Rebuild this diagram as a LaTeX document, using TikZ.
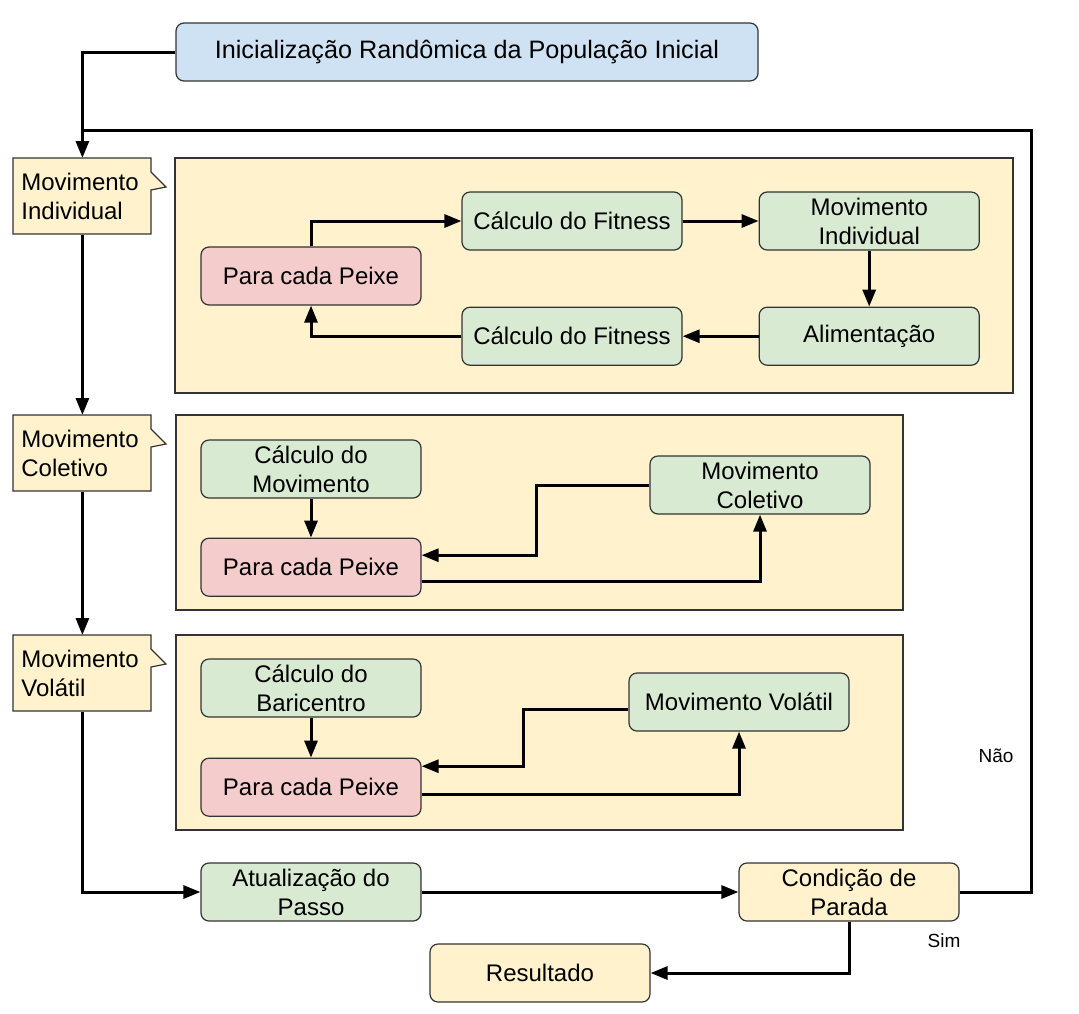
\documentclass[tikz,border=0pt]{standalone}
\usepackage{fontspec}
\setmainfont{Liberation Sans}
\usepackage{xcolor}
\usepackage{tikz}
\usetikzlibrary{arrows.meta, positioning}

\definecolor{initblue}{HTML}{CFE2F3}
\definecolor{paleyellow}{HTML}{FFF2CC}
\definecolor{palegreen}{HTML}{D9EAD3}
\definecolor{palered}{HTML}{F4CCCC}
\definecolor{edgegray}{HTML}{333333}

\begin{document}
\begin{tikzpicture}[x=0.5pt, y=-0.5pt]
    % Block styles
    \tikzstyle{block} = [rectangle, rounded corners=4pt, draw=edgegray, line width=0.6pt, text centered, align=center, minimum width=110pt, minimum height=29pt, inner sep=2pt, font=\fontsize{12}{14.5}\selectfont]
    \tikzstyle{block_green} = [block, fill=palegreen]
    \tikzstyle{block_red} = [block, fill=palered]
    \tikzstyle{block_yellow} = [block, fill=paleyellow]
    \tikzstyle{panel} = [draw=edgegray, line width=0.6pt, fill=paleyellow]
    \tikzstyle{note} = [rectangle, text width=61pt, align=left, minimum width=69pt, minimum height=38pt, inner sep=4pt, font=\fontsize{12}{14.5}\selectfont]
    \tikzstyle{answer} = [inner sep=0pt, font=\fontsize{9.5}{11}\selectfont]
    \tikzstyle{line} = [line width=1.5pt]
    \tikzstyle{arrow} = [line, -{Triangle[length=8.5pt, width=6.5pt]}]

    \useasboundingbox (0,0) rectangle (1079,1013);

    % Panels and side notes
    \draw[panel] (175,158) rectangle (1013,393);
    \draw[panel] (176,415) rectangle (903,610);
    \draw[panel] (176,635) rectangle (903,830);
    \foreach \y in {158,415,635} {
        \draw[panel] (13,\y) -- (151,\y) -- (151,\y+14) -- (166,\y+29) -- (151,\y+32) -- (151,\y+76) -- (13,\y+76) -- cycle;
    }
    \node[note, anchor=north west] (indiv) at (13,158) {Movimento\\Individual};
    \node[note, anchor=north west] (colnote) at (13,415) {Movimento\\Coletivo};
    \node[note, anchor=north west] (volnote) at (13,635) {Movimento\\Volátil};

    % Main flow
    \node[block, fill=initblue, minimum width=291pt, font=\fontsize{12.6}{15}\selectfont] (init) at (467,52) {Inicialização Randômica da População Inicial};
    \node[block_green] (update) at (311,892) {Atualização do\\Passo};
    \node[block_yellow] (stop) at (849,892) {Condição de\\Parada};
    \node[block_yellow] (result) at (540,973) {Resultado};
    \coordinate (loop_corner) at (1031,130);
    \node[answer] (no) at (996,756) {Não};
    \node[answer] (yes) at (944,941) {Sim};

    % Individual movement
    \node[block_red] (fish1) at (311,276) {Para cada Peixe};
    \node[block_green] (fit1) at (572,221) {Cálculo do Fitness};
    \node[block_green, right=38pt of fit1] (indmove) {Movimento\\Individual};
    \node[block_green, below=28pt of indmove] (feed) {Alimentação};
    \node[block_green, left=38pt of feed] (fit2) {Cálculo do Fitness};

    % Collective movement
    \node[block_green] (calcmove) at (311,469) {Cálculo do\\Movimento};
    \node[block_red, below=19.5pt of calcmove] (fish2) {Para cada Peixe};
    \node[block_green] (colmove) at (760,485) {Movimento\\Coletivo};

    % Volatile movement
    \node[block_green] (bary) at (311,688) {Cálculo do\\Baricentro};
    \node[block_red, below=20pt of bary] (fish3) {Para cada Peixe};
    \node[block_green] (volmove) at (739,702) {Movimento Volátil};

    % Connections
    \draw[arrow] (init.west) -| (indiv.north);
    \draw[arrow] (indiv.south) -- (colnote.north);
    \draw[arrow] (colnote.south) -- (volnote.north);
    \draw[arrow] (volnote.south) |- (update.west);
    \draw[arrow] (update) -- (stop);
    \draw[line] (stop.east) -| (loop_corner) -- (indiv.north |- loop_corner);
    \draw[arrow] (stop.south) |- (result.east);

    \draw[arrow] (fish1.north) |- (fit1.west);
    \draw[arrow] (fit1) -- (indmove);
    \draw[arrow] (indmove) -- (feed);
    \draw[arrow] (feed) -- (fit2);
    \draw[arrow] (fit2.west) -| (fish1.south);

    \draw[arrow] (calcmove) -- (fish2);
    \draw[arrow] (colmove.west) -- ++(-113,0) |- ([yshift=6pt]fish2.east);
    \draw[arrow] ([yshift=-7pt]fish2.east) -| (colmove.south);

    \draw[arrow] (bary) -- (fish3);
    \draw[arrow] ([yshift=-3.5pt]volmove.west) -- ++(-105,0) |- ([yshift=10.5pt]fish3.east);
    \draw[arrow] ([yshift=-3.5pt]fish3.east) -| (volmove.south);
\end{tikzpicture}
\end{document}
